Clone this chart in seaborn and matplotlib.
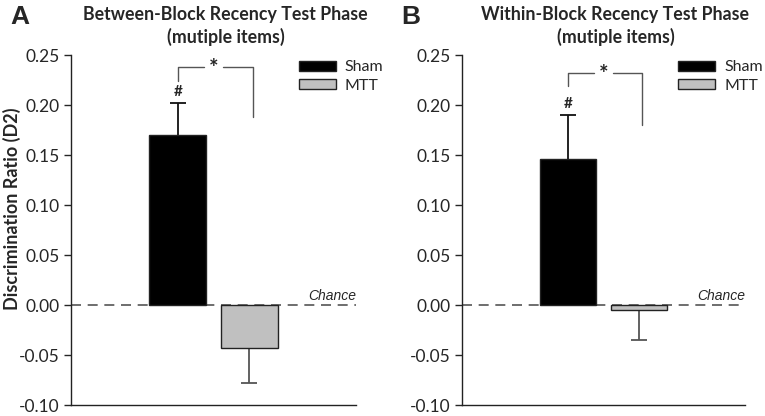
import matplotlib
matplotlib.use("Agg")
import matplotlib.pyplot as plt
import seaborn as sns
import pandas as pd
import numpy as np

groups = ["Sham", "MTT"]
between_means = [0.170, -0.043]
between_sem = [0.032, 0.035]
within_means = [0.146, -0.005]
within_sem = [0.044, 0.030]
titles = ["Between-Block Recency Test Phase\n(mutiple items)",
          "Within-Block Recency Test Phase\n(mutiple items)"]
panel_letters = ["A", "B"]
yticks = [-0.10, -0.05, 0.00, 0.05, 0.10, 0.15, 0.20, 0.25]
colors = {"Sham": "#000000", "MTT": "#c0c0c0"}
err_colors = ["#111111", "#555555"]
# bracket: (y top, left drop, right drop)
brackets = [(0.238, 0.224, 0.188), (0.232, 0.219, 0.180)]
legend_x = [0.80, 0.765]

sns.set_style("white")
plt.rcParams['font.family'] = ['Lato', 'DejaVu Sans']

fig = plt.figure(figsize=(7.65, 4.16), dpi=100)
axes = [fig.add_axes([71/765, 11/416, 285/765, 350/416]),
        fig.add_axes([462/765, 11/416, 283/765, 350/416])]

for i, (ax, means, sems) in enumerate(zip(axes, [between_means, within_means],
                                           [between_sem, within_sem])):
    df = pd.DataFrame({"group": groups, "value": means})
    sns.barplot(data=df, x="group", y="value", hue="group", palette=colors,
                dodge=False, width=0.8, edgecolor="#222222", linewidth=1.0,
                ax=ax, legend=True, zorder=3)
    # one-sided error bars (line + single cap at the far end)
    for j, (m, s) in enumerate(zip(means, sems)):
        end = m + s if m >= 0 else m - s
        ax.vlines(j, m, end, color=err_colors[j], lw=1.3, zorder=2)
        ax.plot([j], [end], marker="_", markersize=11, mew=1.3,
                color=err_colors[j], zorder=2)
    ax.axhline(0, color="#555555", lw=1.2, ls=(0, (6, 4)), zorder=1)
    ax.text(2.5, 0.002, "Chance", ha="right", va="bottom", fontsize=10,
            style="italic", family="Liberation Sans")
    ax.set_xlim(-1.5, 2.5)
    ax.set_ylim(-0.10, 0.25)
    ax.set_yticks(yticks)
    ax.set_yticklabels([f"{t:.2f}" for t in yticks], fontsize=12.5)
    ax.set_xticks([])
    ax.set_xlabel("")
    ax.set_ylabel("")
    ax.tick_params(axis="y", direction="out", length=5, width=1, left=True, pad=3)
    for sp in ["top", "right"]:
        ax.spines[sp].set_visible(False)
    for sp in ["left", "bottom"]:
        ax.spines[sp].set_color("#222222")
        ax.spines[sp].set_linewidth(1.0)
    # significance marks
    top, ld, rd = brackets[i]
    bc = "#555555"
    ax.plot([0, 0, 0.37], [ld, top, top], color=bc, lw=1)
    ax.plot([0.63, 1.05, 1.05], [top, top, rd], color=bc, lw=1)
    ax.text(0.5, top - 0.002, "*", ha="center", va="center", fontsize=16,
            fontweight="bold")
    ax.text(0, means[0] + sems[0] + 0.004, "#", ha="center", va="bottom",
            fontsize=11, fontweight="bold")
    ax.text(0.5 + 12/285, 1 + 9/350, titles[i], transform=ax.transAxes,
            ha="center", va="bottom", fontsize=12.8, fontweight="bold",
            linespacing=1.35)
    ax.legend(loc="upper left", bbox_to_anchor=(legend_x[i], 0.985), frameon=False,
              fontsize=11.5, handlelength=2.3, handleheight=0.6,
              handletextpad=0.55, labelspacing=0.3, borderpad=0,
              borderaxespad=0)
    fig.text(ax.get_position().x0 - 61/765, 1 - 17/416, panel_letters[i],
             fontsize=19, fontweight="bold", ha="left", va="center",
             family="Liberation Sans")

fig.text(12/765, 1 - 209/416, "Discrimination Ratio (D2)", rotation=90,
         ha="center", va="center", fontsize=13, fontweight="bold")

fig.savefig("out.png", dpi=100)
